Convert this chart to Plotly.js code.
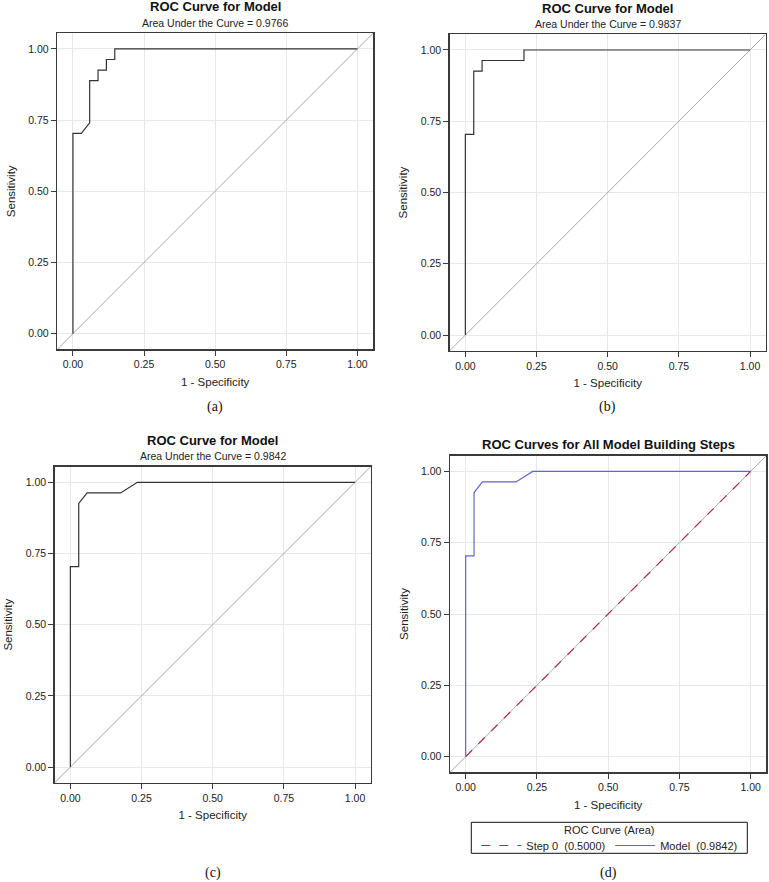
<!DOCTYPE html>
<html>
<head>
<meta charset="utf-8">
<script src="https://cdn.plot.ly/plotly-3.0.1.min.js"></script>
<style>html,body{margin:0;padding:0;background:#fff;}#chart{width:769px;height:882px;}</style>
</head>
<body>
<div id="chart"></div>
<script>
// ---- data ----
const tickVals = [0, 0.25, 0.5, 0.75, 1];
const tickLabels = ['0.00', '0.25', '0.50', '0.75', '1.00'];

// (a) AUC 0.9766
const fprA = [0, 0, 0.0294, 0.0588, 0.0588, 0.0882, 0.0882, 0.1176, 0.1176, 0.1471, 0.1471, 1];
const tprA = [0, 0.7037, 0.7037, 0.7407, 0.8889, 0.8889, 0.9259, 0.9259, 0.9630, 0.9630, 1, 1];
// (b) AUC 0.9837
const fprB = [0, 0, 0.0294, 0.0294, 0.0588, 0.0588, 0.2059, 0.2059, 1];
const tprB = [0, 0.7037, 0.7037, 0.9259, 0.9259, 0.9630, 0.9630, 1, 1];
// (c) AUC 0.9842
const fprC = [0, 0, 0.0294, 0.0294, 0.0588, 0.1765, 0.2353, 1];
const tprC = [0, 0.7037, 0.7037, 0.9259, 0.9630, 0.9630, 1, 1];
// (d) model building steps
const fprStep0 = [0, 1];
const tprStep0 = [0, 1];
const fprModel = fprC;
const tprModel = tprC;
// chance diagonal (extends past the axes, clipped by the plot area)
const diagX = [-0.1, 1.1];
const diagY = [-0.1, 1.1];

const panelTitles = ['ROC Curve for Model', 'ROC Curve for Model', 'ROC Curve for Model', 'ROC Curves for All Model Building Steps'];
const aucTexts = ['Area Under the Curve = 0.9766', 'Area Under the Curve = 0.9837', 'Area Under the Curve = 0.9842', ''];
const captions = ['(a)', '(b)', '(c)', '(d)'];
const legendTitle = 'ROC Curve (Area)';
const legendNames = ['Step 0\u00a0 (0.5000)', 'Model\u00a0 (0.9842)'];

// ---- layout geometry ----
const W = 769, H = 882;
const FONT = 'Liberation Sans, Arial, sans-serif';
const boxes = [ // [left, right, top, bottom] in pixels
  [57.3, 373.0, 33.3, 349.3],
  [449.7, 765.7, 34.3, 350.7],
  [54.7, 370.7, 466.7, 782.7],
  [450.0, 766.3, 455.7, 772.3]
];
const legendBox = [471.3, 747.3, 822.3, 853.3];
const curveColor = '#333333';
const diagColor = '#a8a8a8';

function axis(dom, isX, anchor) {
  return {
    domain: dom, anchor: anchor,
    range: [-0.055, 1.055], autorange: false,
    tickvals: tickVals, ticktext: tickLabels,
    showgrid: true, gridcolor: '#e8e8e8', gridwidth: 1,
    zeroline: false, showline: true, mirror: true,
    linecolor: '#3a3a3a', linewidth: 1.5,
    ticks: 'outside', ticklen: 5, tickcolor: '#3a3a3a', tickwidth: 1,
    tickfont: {family: FONT, size: 10.5, color: '#222'},
    title: {text: isX ? '1 - Specificity' : 'Sensitivity',
            font: {family: FONT, size: 11.5, color: '#222'},
            standoff: isX ? 8 : 10},
    automargin: false, fixedrange: true
  };
}

const layout = {
  width: W, height: H,
  margin: {l: 0, r: 0, t: 0, b: 0},
  paper_bgcolor: '#fff', plot_bgcolor: '#fff',
  showlegend: true,
  legend: {
    orientation: 'h', x: ((legendBox[0] + legendBox[1]) / 2) / W, xanchor: 'center',
    y: 1 - 845.5 / H, yanchor: 'middle',
    borderwidth: 0, bgcolor: 'rgba(0,0,0,0)',
    font: {family: FONT, size: 11, color: '#222'},
    traceorder: 'normal', tracegroupgap: 0, itemwidth: 40
  },
  shapes: [{
    type: 'rect', xref: 'paper', yref: 'paper',
    x0: legendBox[0] / W, x1: legendBox[1] / W, y0: 1 - legendBox[3] / H, y1: 1 - legendBox[2] / H,
    line: {color: '#111', width: 1}, fillcolor: 'rgba(0,0,0,0)'
  }],
  annotations: [{
    text: legendTitle, xref: 'paper', yref: 'paper',
    x: ((legendBox[0] + legendBox[1]) / 2) / W, y: 1 - 830 / H, xanchor: 'center', yanchor: 'middle',
    showarrow: false, font: {family: FONT, size: 11, color: '#222'}
  }]
};

const traces = [];
const curvesX = [fprA, fprB, fprC];
const curvesY = [tprA, tprB, tprC];

boxes.forEach((b, i) => {
  const n = i + 1;
  const xk = 'xaxis' + (n === 1 ? '' : n), yk = 'yaxis' + (n === 1 ? '' : n);
  const xr = 'x' + (n === 1 ? '' : n), yr = 'y' + (n === 1 ? '' : n);
  layout[xk] = axis([b[0] / W, b[1] / W], true, yr);
  layout[yk] = axis([1 - b[3] / H, 1 - b[2] / H], false, xr);
  // diagonal reference
  traces.push({x: diagX, y: diagY, xaxis: xr, yaxis: yr, mode: 'lines',
    line: {color: diagColor, width: 1}, showlegend: false, hoverinfo: 'skip'});
  if (i < 3) {
    traces.push({x: curvesX[i], y: curvesY[i], xaxis: xr, yaxis: yr, mode: 'lines',
      line: {color: curveColor, width: 1.2}, showlegend: false});
  } else {
    traces.push({x: fprStep0, y: tprStep0, xaxis: xr, yaxis: yr, mode: 'lines', name: legendNames[0],
      line: {color: '#a3304a', width: 1.2, dash: 'dash'}});
    traces.push({x: fprModel, y: tprModel, xaxis: xr, yaxis: yr, mode: 'lines', name: legendNames[1],
      line: {color: '#6464cc', width: 1.2}});
  }
  const cx = ((b[0] + b[1]) / 2) / W;
  // titles
  const titleY = [6.7, 8.3, 440.7, 444][i];
  layout.annotations.push({text: '<b>' + panelTitles[i] + '</b>', xref: 'paper', yref: 'paper',
    x: cx, y: 1 - titleY / H, xanchor: 'center', yanchor: 'middle', showarrow: false,
    font: {family: FONT, size: 13, color: '#111'}});
  if (aucTexts[i]) {
    const subY = [22.7, 24.3, 455.7][i];
    layout.annotations.push({text: aucTexts[i], xref: 'paper', yref: 'paper',
      x: cx, y: 1 - subY / H, xanchor: 'center', yanchor: 'middle', showarrow: false,
      font: {family: FONT, size: 10.5, color: '#222'}});
  }
  const capY = [406.7, 406.7, 873, 873][i];
  layout.annotations.push({text: captions[i], xref: 'paper', yref: 'paper',
    x: cx, y: 1 - capY / H, xanchor: 'center', yanchor: 'middle', showarrow: false,
    font: {family: 'Liberation Serif, Times New Roman, serif', size: 14, color: '#111'}});
});

Plotly.newPlot('chart', traces, layout, {staticPlot: true, displayModeBar: false});
</script>
</body>
</html>
